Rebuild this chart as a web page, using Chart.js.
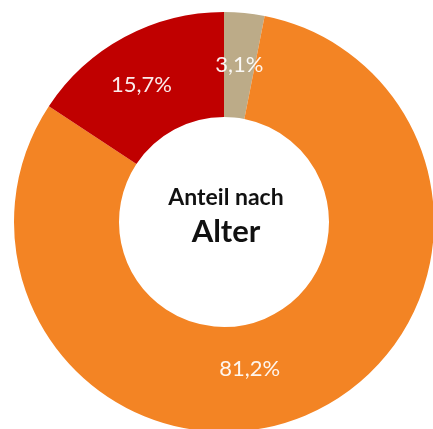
<!DOCTYPE html>
<html>
<head>
<meta charset="utf-8">
<script src="https://cdn.jsdelivr.net/npm/chart.js@4"></script>
<style>
  html, body { margin: 0; padding: 0; background: #fff; overflow: hidden; width: 433px; height: 429px; }
  #wrap { position: absolute; left: 0; top: 0; width: 448px; height: 444px; }
</style>
</head>
<body>
<div id="wrap"><canvas id="c" width="448" height="444"></canvas></div>
<script>
const categories = ["Gruppe A", "Gruppe B", "Gruppe C"];
const shares = [3.1, 81.2, 15.7];
const valueLabels = ["3,1%", "81,2%", "15,7%"];
const sliceColors = ["#BCAB88", "#F38424", "#C00000"];
const centerTitle = ["Anteil nach", "Alter"];

const labelNudge = [[0, 0], [-35, 2], [-8, 2]];

const labelPlugin = {
  id: 'sliceLabels',
  afterDatasetsDraw(chart) {
    const ctx = chart.ctx;
    const meta = chart.getDatasetMeta(0);
    ctx.save();
    ctx.font = '22px Lato';
    ctx.fillStyle = 'rgba(255,255,255,0.92)';
    ctx.textAlign = 'center';
    ctx.textBaseline = 'middle';
    meta.data.forEach((arc, i) => {
      const p = arc.tooltipPosition();
      ctx.fillText(valueLabels[i], p.x + labelNudge[i][0], p.y + labelNudge[i][1]);
    });
    // center text
    const a = chart.chartArea;
    const cx = (a.left + a.right) / 2;
    const cy = (a.top + a.bottom) / 2;
    ctx.fillStyle = '#111';
    ctx.textBaseline = 'alphabetic';
    ctx.font = 'bold 23px Lato';
    ctx.fillText(centerTitle[0], cx + 2, cy - 17);
    ctx.font = 'bold 31px Lato';
    ctx.fillText(centerTitle[1], cx + 2, cy + 20);
    ctx.restore();
  }
};

new Chart(document.getElementById('c'), {
  type: 'doughnut',
  data: {
    labels: categories,
    datasets: [{
      data: shares,
      backgroundColor: sliceColors,
      borderWidth: 0
    }]
  },
  options: {
    responsive: false,
    animation: false,
    cutout: '50%',
    layout: { padding: 12 },
    plugins: {
      legend: { display: false },
      tooltip: { enabled: false }
    }
  },
  plugins: [labelPlugin]
});
</script>
</body>
</html>
